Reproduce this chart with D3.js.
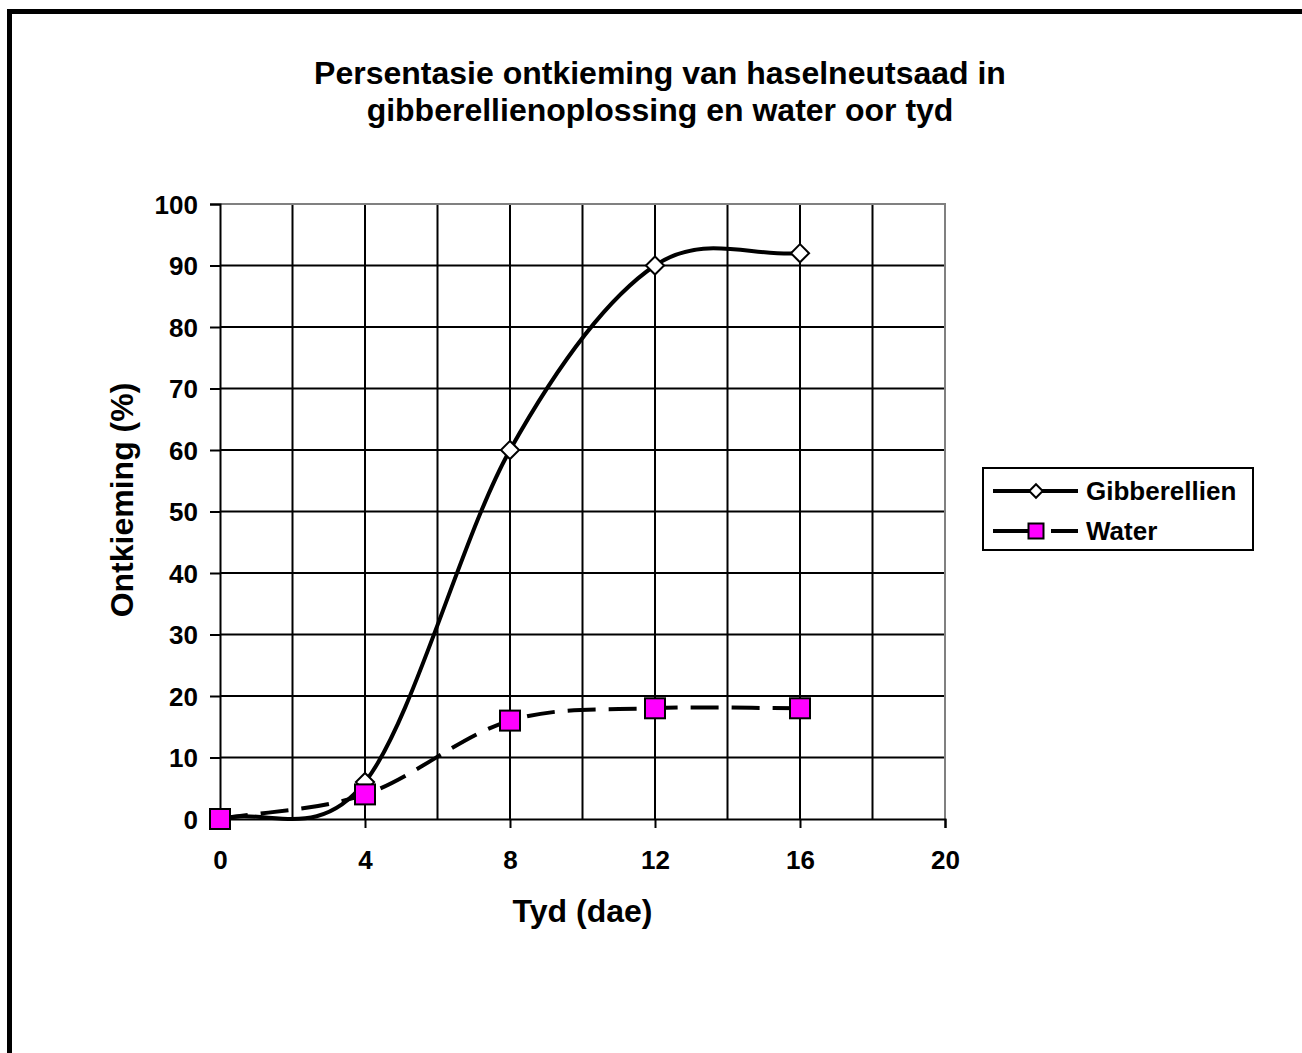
<!DOCTYPE html>
<html>
<head>
<meta charset="utf-8">
<script src="https://cdn.jsdelivr.net/npm/d3@7"></script>
<style>
  body { margin: 0; background: #fff; }
  text { font-family: Arial, "Liberation Sans", sans-serif; font-weight: bold; fill: #000; }
</style>
</head>
<body>
<div id="chart"></div>
<script>
// data
const days = [0, 4, 8, 12, 16]
const gibberellien = [0, 6, 60, 90, 92]
const water = [0, 4, 16, 18, 18]
const xTicks = [0, 4, 8, 12, 16, 20]
const xGrid = [2, 4, 6, 8, 10, 12, 14, 16, 18]
const yTicks = [0, 10, 20, 30, 40, 50, 60, 70, 80, 90, 100]
const seriesNames = ["Gibberellien", "Water"]

const W = 1302, H = 1053
const margin = { left: 220, top: 204, right: 945, bottom: 819 }

const svg = d3.select("#chart").append("svg")
  .attr("width", W)
  .attr("height", H)

// outer frame (only left + top visible in the crop)
svg.append("rect")
  .attr("x", 9.5).attr("y", 11.5)
  .attr("width", W + 20).attr("height", H + 20)
  .attr("fill", "none").attr("stroke", "#000").attr("stroke-width", 5)

const x = d3.scaleLinear().domain([0, 20]).range([margin.left, margin.right])
const y = d3.scaleLinear().domain([0, 100]).range([margin.bottom, margin.top])

// title
const title = svg.append("text")
  .attr("text-anchor", "middle")
  .style("font-size", "32px")
title.append("tspan").attr("x", 660).attr("y", 84).text("Persentasie ontkieming van haselneutsaad in")
title.append("tspan").attr("x", 660).attr("y", 121).text("gibberellienoplossing en water oor tyd")

// gridlines
const grid = svg.append("g").attr("stroke", "#000").attr("stroke-width", 2)
grid.selectAll("line.v").data(xGrid).enter().append("line")
  .attr("x1", d => x(d)).attr("x2", d => x(d))
  .attr("y1", margin.top).attr("y2", margin.bottom)
grid.selectAll("line.h").data(yTicks.filter(d => d > 0 && d < 100)).enter().append("line")
  .attr("y1", d => y(d)).attr("y2", d => y(d))
  .attr("x1", margin.left).attr("x2", margin.right)

// plot area border (gray top/right)
svg.append("path")
  .attr("d", `M${margin.left},${margin.top}H${margin.right}V${margin.bottom}`)
  .attr("fill", "none").attr("stroke", "#808080").attr("stroke-width", 2)

// axes
const xAxis = d3.axisBottom(x).tickValues(xTicks).tickSize(9).tickPadding(23)
const yAxis = d3.axisLeft(y).tickValues(yTicks).tickSize(10).tickPadding(12)

const gx = svg.append("g").attr("transform", `translate(0,${margin.bottom})`).call(xAxis)
const gy = svg.append("g").attr("transform", `translate(${margin.left},0)`).call(yAxis)
for (const g of [gx, gy]) {
  g.select(".domain").attr("stroke", "#000").attr("stroke-width", 2)
  g.selectAll(".tick line").attr("stroke", "#000").attr("stroke-width", 2)
  g.selectAll(".tick text")
    .style("font-size", "26px").style("font-family", "Arial, 'Liberation Sans', sans-serif")
    .style("font-weight", "bold").attr("fill", "#000")
}
gx.selectAll(".tick text").attr("dy", "0.71em")
gy.selectAll(".tick text").attr("dy", "0.36em")

// axis titles
svg.append("text")
  .attr("x", (margin.left + margin.right) / 2).attr("y", 922)
  .attr("text-anchor", "middle")
  .style("font-size", "32px")
  .text("Tyd (dae)")

svg.append("text")
  .attr("transform", "translate(133,500) rotate(-90)")
  .attr("text-anchor", "middle")
  .style("font-size", "32px")
  .text("Ontkieming (%)")

// excel-like smoothing: interior tangents (P[i+1]-P[i-1])/6, end tangents (P1-P0)/3
function smoothPath(pts) {
  const p = pts.map(d => [x(d[0]), y(d[1])])
  const path = d3.path()
  path.moveTo(p[0][0], p[0][1])
  const tan = p.map((d, i) => {
    if (i === 0) return [(p[1][0] - d[0]) / 3, (p[1][1] - d[1]) / 3]
    if (i === p.length - 1) return [(d[0] - p[i - 1][0]) / 3, (d[1] - p[i - 1][1]) / 3]
    return [(p[i + 1][0] - p[i - 1][0]) / 6, (p[i + 1][1] - p[i - 1][1]) / 6]
  })
  for (let i = 0; i < p.length - 1; i++) {
    path.bezierCurveTo(
      p[i][0] + tan[i][0], p[i][1] + tan[i][1],
      p[i + 1][0] - tan[i + 1][0], p[i + 1][1] - tan[i + 1][1],
      p[i + 1][0], p[i + 1][1])
  }
  return path.toString()
}

const gibData = days.map((d, i) => [d, gibberellien[i]])
const waterData = days.map((d, i) => [d, water[i]])

svg.append("path")
  .attr("d", smoothPath(gibData))
  .attr("fill", "none").attr("stroke", "#000").attr("stroke-width", 4)

svg.append("path")
  .attr("d", smoothPath(waterData))
  .attr("fill", "none").attr("stroke", "#000").attr("stroke-width", 4)
  .attr("stroke-dasharray", "28,13")

// markers
const diamond = d3.symbol().type(d3.symbolDiamond2).size(210)
svg.selectAll("path.gmark").data(gibData).enter().append("path")
  .attr("class", "gmark")
  .attr("transform", d => `translate(${x(d[0])},${y(d[1])})`)
  .attr("d", diamond)
  .attr("fill", "#fff").attr("stroke", "#000").attr("stroke-width", 2)

svg.selectAll("rect.wmark").data(waterData).enter().append("rect")
  .attr("class", "wmark")
  .attr("x", d => x(d[0]) - 10).attr("y", d => y(d[1]) - 10)
  .attr("width", 20).attr("height", 20)
  .attr("fill", "#ff00ff").attr("stroke", "#000").attr("stroke-width", 2)

// legend
const legend = svg.append("g").attr("transform", "translate(983,468)")
legend.append("rect")
  .attr("width", 270).attr("height", 82)
  .attr("fill", "#fff").attr("stroke", "#000").attr("stroke-width", 2)

const rows = legend.selectAll("g.row").data(seriesNames).enter().append("g")
  .attr("transform", (d, i) => `translate(0,${23 + i * 40})`)
rows.filter((d, i) => i === 0).append("line")
  .attr("x1", 10).attr("x2", 95)
  .attr("stroke", "#000").attr("stroke-width", 4)
rows.filter((d, i) => i === 1).selectAll("line").data([[10, 47], [68, 95]]).enter().append("line")
  .attr("x1", d => d[0]).attr("x2", d => d[1])
  .attr("stroke", "#000").attr("stroke-width", 4)
rows.filter((d, i) => i === 0).append("path")
  .attr("transform", "translate(53,0)")
  .attr("d", d3.symbol().type(d3.symbolDiamond2).size(115))
  .attr("fill", "#fff").attr("stroke", "#000").attr("stroke-width", 2)
rows.filter((d, i) => i === 1).append("rect")
  .attr("x", 45.5).attr("y", -7.5).attr("width", 15).attr("height", 15)
  .attr("fill", "#ff00ff").attr("stroke", "#000").attr("stroke-width", 2)
rows.append("text")
  .attr("x", 103).attr("dy", "0.36em")
  .style("font-size", "26px")
  .text(d => d)
</script>
</body>
</html>
